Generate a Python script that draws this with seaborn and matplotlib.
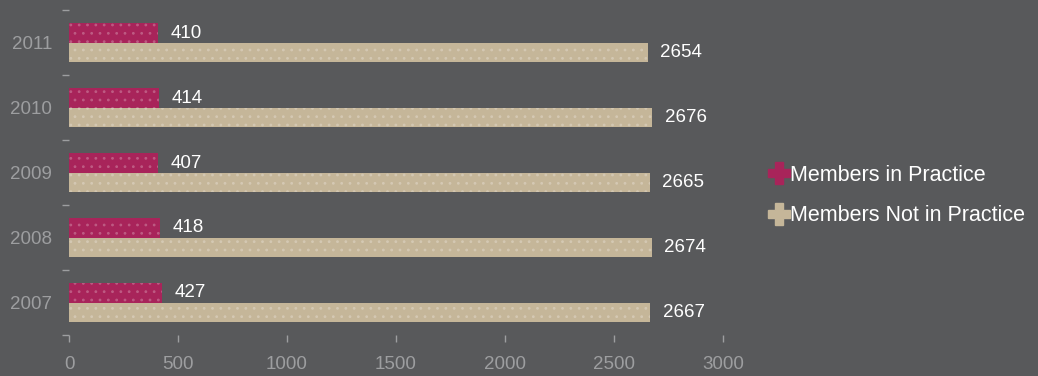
import numpy as np
import pandas as pd
import matplotlib.pyplot as plt
import seaborn as sns
from matplotlib.lines import Line2D

# 연도별 회원 수
years = ["2011", "2010", "2009", "2008", "2007"]
in_practice = [410, 414, 407, 418, 427]
not_in_practice = [2654, 2676, 2665, 2674, 2667]
series_names = ["Members in Practice", "Members Not in Practice"]
colors = ["#a8245a", "#c5b699"]
x_ticks = [0, 500, 1000, 1500, 2000, 2500, 3000]

bg = "#58595b"
tick_col = "#9d9ea0"

df = pd.DataFrame({
    "year": years * 2,
    "members": in_practice + not_in_practice,
    "group": [series_names[0]] * len(years) + [series_names[1]] * len(years),
})

sns.set_theme(style="dark")
plt.rcParams["font.family"] = ["Liberation Sans", "DejaVu Sans"]
plt.rcParams["hatch.linewidth"] = 0.8

fig = plt.figure(figsize=(10.38, 3.76), dpi=100, facecolor=bg)
ax = fig.add_axes([0.0665, 0.109, 0.63, 0.864], facecolor=bg)

sns.barplot(data=df, x="members", y="year", hue="group", order=years,
            hue_order=series_names, palette=colors, orient="h",
            width=0.59, ax=ax, legend=False, saturation=1)

# 바 안의 점무늬
for cont, col in zip(ax.containers, colors):
    for bar in cont:
        bar.set_hatch("..")
        bar.set_edgecolor(sns.blend_palette([col, "white"], 5)[1])
        bar.set_linewidth(0)
    ax.bar_label(cont, padding=9, color="white", fontsize=13.5)

ax.set_xlim(0, 3000)
ax.set_ylim(len(years) - 0.5, -0.5)
ax.set_xticks(x_ticks)
ax.set_xticklabels([str(t) for t in x_ticks])
ax.set_yticks(np.arange(-0.5, len(years), 1.0), minor=True)
ax.tick_params(axis="x", colors=tick_col, labelsize=13.5, length=5, width=1,
               direction="out", pad=10, bottom=True)
ax.tick_params(axis="y", which="major", colors=tick_col, labelsize=13.5, length=0, pad=12)
ax.tick_params(axis="y", which="minor", color=tick_col, length=5, width=1, left=True)
ax.set_xlabel("")
ax.set_ylabel("")
ax.grid(False)
for s in ax.spines.values():
    s.set_visible(False)

handles = [Line2D([], [], marker="P", linestyle="", markersize=16,
                  markerfacecolor=c, markeredgecolor=c) for c in colors]
fig.legend(handles, series_names, loc="center left", bbox_to_anchor=(0.72, 0.48),
           frameon=False, labelcolor="white", fontsize=15.5, handletextpad=0.0,
           labelspacing=0.9, handlelength=1.1)

fig.savefig("out.png", dpi=100, facecolor=bg)
